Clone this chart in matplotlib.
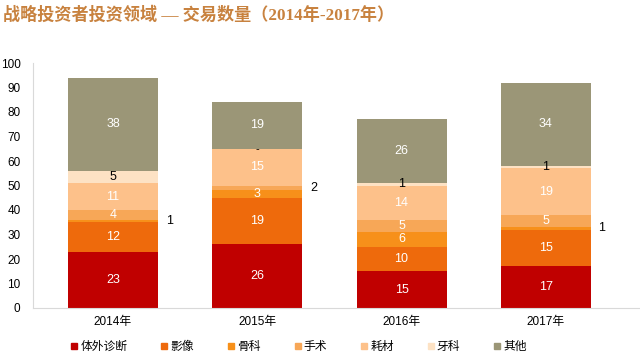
import matplotlib
matplotlib.use("Agg")
import matplotlib.pyplot as plt
from matplotlib.lines import Line2D
import numpy as np

plt.rcParams['font.family'] = ['Liberation Sans', 'Noto Sans CJK SC']

years = ["2014年", "2015年", "2016年", "2017年"]
series_names = ["体外诊断", "影像", "骨科", "手术", "耗材", "牙科", "其他"]
ivd = [23, 26, 15, 17]
imaging = [12, 19, 10, 15]
ortho = [1, 3, 6, 1]
surgery = [4, 2, 5, 5]
consumables = [11, 15, 14, 19]
dental = [5, 0, 1, 1]
other = [38, 19, 26, 34]
series_values = [ivd, imaging, ortho, surgery, consumables, dental, other]
colors = ["#C00000", "#EE6A0C", "#F7901A", "#F7A757", "#FDC18A", "#FDE2C4", "#9B9677"]
label_colors = ["white", "white", "white", "white", "white", "black", "white"]

fig = plt.figure(figsize=(6.4, 3.58), dpi=100)
ax = fig.add_axes([33/640, 50/358, 607/640, 245/358])

x = np.arange(len(years))
bw = 0.624
bottom = np.zeros(len(years))
for name, vals, col, lc in zip(series_names, series_values, colors, label_colors):
    vals = np.array(vals, dtype=float)
    ax.bar(x, vals, bw, bottom=bottom, color=col, edgecolor='none', label=name)
    for xi, v, b in zip(x, vals, bottom):
        cy = b + v / 2
        if v == 0:
            ax.text(xi, cy, "-", ha='center', va='center', fontsize=8, color='black')
        elif v <= 2 and name != "牙科":
            ax.annotate(f"{int(v)}", (xi + bw / 2, cy), xytext=(5.5, 0), textcoords='offset points',
                        ha='left', va='center', fontsize=9, color='black')
        else:
            ax.text(xi, cy, f"{int(v)}", ha='center', va='center', fontsize=9, color=lc)
    bottom += vals

ax.set_ylim(0, 100)
ax.set_yticks(range(0, 101, 10))
ax.set_xlim(-0.554, -0.554 + 607 / 144.3)
ax.set_xticks(x)
ax.set_xticklabels(years)
ax.tick_params(axis='both', length=0, labelsize=8.5, colors='black')
ax.tick_params(axis='y', pad=9)
ax.tick_params(axis='x', pad=6)
for s in ['top', 'right']:
    ax.spines[s].set_visible(False)
for s in ['left', 'bottom']:
    ax.spines[s].set_color('#D9D9D9')
    ax.spines[s].set_linewidth(0.8)

handles = [Line2D([], [], marker='s', linestyle='none', markersize=4.5, color=c) for c in colors]
fig.legend(handles, series_names, loc='center', bbox_to_anchor=(0.466, 1 - 347/358), ncol=7,
           frameon=False, fontsize=8.5, handletextpad=0.1, columnspacing=2.75, handlelength=0.8)

fig.text(3/640, 1 - 15/358, "战略投资者投资领域 — 交易数量（2014年-2017年）", ha='left', va='center',
         fontsize=12.3, fontweight='bold', color='#C8823F',
         family=['Liberation Serif', 'Noto Sans CJK SC'])

fig.savefig("out.png", dpi=100)
